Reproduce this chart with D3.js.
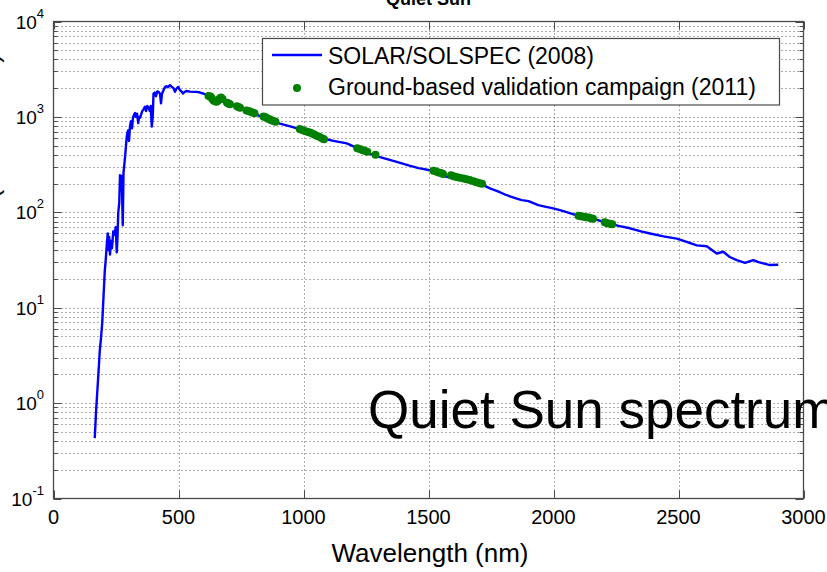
<!DOCTYPE html>
<html>
<head>
<meta charset="utf-8">
<script src="https://cdn.jsdelivr.net/npm/d3@7"></script>
<style>
  html, body { margin: 0; padding: 0; background: #fff; }
  svg { display: block; }
  text { font-family: "Liberation Sans", Arial, Helvetica, sans-serif; fill: #000; }
</style>
</head>
<body>
<svg id="chart" width="827" height="572"></svg>
<script>
// SOLAR/SOLSPEC (2008) spectrum: wavelength (nm) and irradiance (mW/m²/nm)
const specWavelength = [
  165, 170, 175, 180, 185, 190, 195, 200, 205, 209, 213, 217, 220, 223, 226, 230, 234, 239, 244, 249,
  253, 256, 259, 263, 266, 270, 273, 277, 280, 284, 288, 291, 294, 298, 302, 306, 310, 314, 318, 322,
  326, 330, 334, 339, 342, 346, 350, 355, 360, 366, 370, 375, 380, 385, 389, 393, 397, 400, 405, 410,
  415, 420, 426, 430, 434, 440, 446, 452, 458, 466, 472, 480, 486, 492, 499, 506, 512, 518, 525, 533,
  545, 560, 573, 586, 599, 612, 626, 639, 655, 670, 690, 706, 730, 750, 773, 800, 830, 853, 880, 906,
  950, 999, 1040, 1079, 1120, 1173, 1220, 1250, 1279, 1320, 1373, 1420, 1460, 1506, 1540, 1573, 1620, 1660, 1706, 1746,
  1780, 1813, 1850, 1873, 1900, 1939, 1970, 1999, 2040, 2093, 2130, 2159, 2190, 2226, 2260, 2306, 2350, 2386, 2440, 2493,
  2533, 2573, 2613, 2635, 2653, 2679, 2705, 2733, 2766, 2799, 2820, 2839, 2866, 2899
];
const specIrradiance = [
  0.43, 0.8, 1.3, 2.1, 3.5, 4.8, 7, 13, 24, 32, 45, 60, 40, 55, 36, 50, 42, 63, 58, 70,
  38, 55, 100, 125, 245, 170, 240, 73, 260, 330, 430, 540, 650, 720, 560, 800, 900, 760, 980, 1050,
  1100, 1000, 1080, 860, 1000, 980, 1050, 1150, 1200, 1280, 1150, 1300, 1250, 1150, 1300, 790, 1000, 1750, 1800, 1650,
  1850, 1830, 1750, 1390, 1750, 1900, 2060, 2100, 2050, 2150, 2080, 2000, 1830, 1980, 2060, 1900, 1850, 1760, 1830, 1870,
  1840, 1830, 1830, 1800, 1760, 1700, 1650, 1560, 1520, 1480, 1420, 1380, 1290, 1230, 1175, 1080, 1010, 962, 900, 851,
  790, 726, 660, 594, 560, 527, 465, 430, 398, 370, 338, 310, 290, 276, 255, 235, 225, 210, 200, 178,
  165, 151, 140, 134, 131, 119, 114, 110, 103, 93, 89, 86, 81, 76.5, 72, 68, 63, 60, 56, 53,
  49, 45, 44, 40, 37, 38.6, 34, 31.6, 29.5, 31.6, 30, 29.2, 28, 28.2
];

// Ground-based validation campaign (2011) measurements
const campWavelength = [
  620, 628, 634, 640, 646, 652, 658, 664, 670, 676,
  694, 700, 706,
  734, 740, 746,
  772, 780, 788, 796, 804,
  840, 848, 856, 864, 872, 880, 888,
  985, 995, 1005, 1015, 1025, 1035, 1045, 1055, 1065, 1075, 1082,
  1215, 1225, 1235, 1245, 1255,
  1288,
  1520, 1530, 1540, 1550, 1558,
  1590, 1600, 1612, 1625, 1640, 1652, 1665, 1680, 1692, 1705, 1714,
  2100, 2110, 2120, 2130, 2140, 2150, 2158,
  2205, 2215, 2225, 2235
];
const campIrradiance = [
  1660, 1640, 1560, 1490, 1460, 1440, 1480, 1550, 1600, 1540,
  1410, 1380, 1360,
  1290, 1270, 1250,
  1170, 1150, 1130, 1110, 1090,
  1010, 990, 965, 945, 925, 905, 890,
  745, 730, 712, 698, 685, 668, 650, 632, 615, 595, 582,
  470, 460, 450, 442, 432,
  400,
  272, 268, 262, 258, 252,
  244, 238, 235, 230, 226, 222, 218, 212, 207, 202, 199,
  92, 91, 90, 89, 88, 86.5, 85.5,
  78.5, 77, 76, 75
];

const xTicks = [0, 500, 1000, 1500, 2000, 2500, 3000];
const yExponents = [-1, 0, 1, 2, 3, 4];
const legendLabels = ["SOLAR/SOLSPEC (2008)", "Ground-based validation campaign (2011)"];
const titleText = "Quiet Sun";
const xLabelText = "Wavelength (nm)";
const yLabelText = "Irradiance (mW/m²/nm)";
const annotationText = "Quiet Sun spectrum";

const svg = d3.select("#chart");
const plot = { left: 53.5, right: 803.5, top: 21.5, bottom: 498.5 };

const x = d3.scaleLinear().domain([0, 3000]).range([plot.left, plot.right]);
const y = d3.scaleLog().domain([0.1, 10000]).range([plot.bottom, plot.top]);

// minor + major log positions for the grid
const logGrid = [];
for (let k = -1; k <= 3; k++) {
  for (let m = 1; m <= 9; m++) logGrid.push(m * Math.pow(10, k));
}
logGrid.push(10000);

const gridColor = "#5a5a5a";
const gGrid = svg.append("g");
gGrid.selectAll("line.hg").data(logGrid.filter(v => v > 0.1 && v < 10000)).join("line")
  .attr("x1", plot.left).attr("x2", plot.right)
  .attr("y1", d => Math.round(y(d)) + 0.5).attr("y2", d => Math.round(y(d)) + 0.5)
  .attr("stroke", gridColor).attr("stroke-width", 1).attr("stroke-dasharray", "1,3");
gGrid.selectAll("line.vg").data(xTicks.filter(v => v > 0 && v < 3000)).join("line")
  .attr("x1", d => Math.round(x(d)) + 0.5).attr("x2", d => Math.round(x(d)) + 0.5)
  .attr("y1", plot.top).attr("y2", plot.bottom)
  .attr("stroke", gridColor).attr("stroke-width", 1).attr("stroke-dasharray", "1,3");

// spectrum line
const specData = specWavelength.map((w, i) => [w, specIrradiance[i]]);
const line = d3.line().x(d => x(d[0])).y(d => y(d[1]));
svg.append("path").datum(specData)
  .attr("d", line).attr("fill", "none")
  .attr("stroke", "#0000ff").attr("stroke-width", 2.4).attr("stroke-linejoin", "round");

// campaign points
const campData = campWavelength.map((w, i) => [w, campIrradiance[i]]);
svg.append("g").selectAll("circle").data(campData).join("circle")
  .attr("cx", d => x(d[0])).attr("cy", d => y(d[1])).attr("r", 4)
  .attr("fill", "#008000");

// axes frame and inward ticks
const axisColor = "#4a4a4a";
const gAxes = svg.append("g");
gAxes.append("rect")
  .attr("x", plot.left).attr("y", plot.top)
  .attr("width", plot.right - plot.left).attr("height", plot.bottom - plot.top)
  .attr("fill", "none").attr("stroke", axisColor).attr("stroke-width", 1.3);

xTicks.forEach(t => {
  const px = Math.round(x(t)) + 0.5;
  gAxes.append("line").attr("x1", px).attr("x2", px).attr("y1", plot.bottom).attr("y2", plot.bottom - 8)
    .attr("stroke", axisColor);
  gAxes.append("line").attr("x1", px).attr("x2", px).attr("y1", plot.top).attr("y2", plot.top + 8)
    .attr("stroke", axisColor);
});
logGrid.forEach(v => {
  const py = Math.round(y(v)) + 0.5;
  const major = Math.abs(Math.log10(v) - Math.round(Math.log10(v))) < 1e-9;
  const len = major ? 8 : 4;
  gAxes.append("line").attr("x1", plot.left).attr("x2", plot.left + len).attr("y1", py).attr("y2", py)
    .attr("stroke", axisColor);
  gAxes.append("line").attr("x1", plot.right).attr("x2", plot.right - len).attr("y1", py).attr("y2", py)
    .attr("stroke", axisColor);
});

// x tick labels
svg.append("g").selectAll("text").data(xTicks).join("text")
  .attr("x", d => x(d)).attr("y", 524)
  .attr("text-anchor", "middle").attr("font-size", 20)
  .text(d => d);

// y tick labels as powers of ten
const yLab = svg.append("g").selectAll("text").data(yExponents).join("text")
  .attr("x", 44).attr("y", d => y(Math.pow(10, d)) + 7)
  .attr("text-anchor", "end").attr("font-size", 19);
yLab.append("tspan").text("10");
yLab.append("tspan").attr("dy", -11).attr("font-size", 13).text(d => d);

// axis labels and title
svg.append("text").attr("x", 430).attr("y", 562).attr("text-anchor", "middle")
  .attr("font-size", 26).text(xLabelText);
svg.append("text").attr("transform", "translate(-1.5,54) rotate(-90)")
  .attr("text-anchor", "end").attr("font-size", 26).text(yLabelText);
svg.append("text").attr("x", 428.5).attr("y", 5).attr("text-anchor", "middle")
  .attr("font-size", 18).attr("font-weight", "bold").text(titleText);

// legend
const lg = svg.append("g");
lg.append("rect").attr("x", 262.5).attr("y", 38.5).attr("width", 517).attr("height", 66.5)
  .attr("fill", "#fff").attr("stroke", axisColor).attr("stroke-width", 1.2);
lg.append("line").attr("x1", 272).attr("x2", 322).attr("y1", 55).attr("y2", 55)
  .attr("stroke", "#0000ff").attr("stroke-width", 2.4);
lg.append("circle").attr("cx", 297).attr("cy", 88).attr("r", 4).attr("fill", "#008000");
lg.selectAll("text").data(legendLabels).join("text")
  .attr("x", 328).attr("y", (d, i) => 64 + i * 31)
  .attr("font-size", 23).text(d => d);

// large annotation inside the axes
svg.append("text").attr("x", 368).attr("y", 428)
  .attr("font-size", 53).text(annotationText);
</script>
</body>
</html>
